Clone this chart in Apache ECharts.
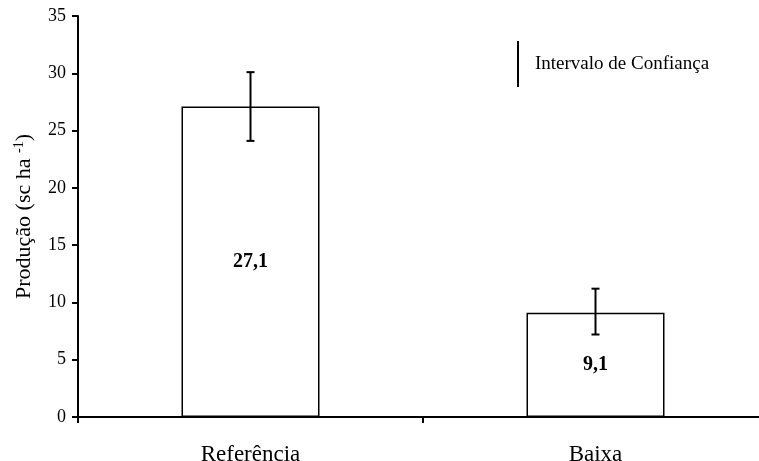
<!DOCTYPE html>
<html>
<head>
<meta charset="UTF-8">
<title>Produção</title>
<script src="https://cdn.jsdelivr.net/npm/echarts@6/dist/echarts.min.js"></script>
<style>
  html, body { margin: 0; padding: 0; background: #fff; }
  #main { width: 759px; height: 461px; }
</style>
</head>
<body>
<div id="main"></div>
<script>
  // dados
  var categorias = ['Referência', 'Baixa'];
  var producao = [27.1, 9.1];
  var icInferior = [24.1, 7.2];
  var icSuperior = [30.1, 11.2];
  var yTicks = [0, 5, 10, 15, 20, 25, 30, 35];

  var fonte = 'Liberation Serif, Times New Roman, serif';
  var chart = echarts.init(document.getElementById('main'));

  var erros = categorias.map(function (c, i) {
    return [i, icInferior[i], icSuperior[i]];
  });

  chart.setOption({
    animation: false,
    backgroundColor: '#fff',
    textStyle: { fontFamily: fonte, color: '#000' },
    grid: { left: 78, width: 690, top: 16, bottom: 44, containLabel: false, outerBoundsMode: 'none' },
    legend: {
      left: 517, top: 41, padding: 0,
      data: ['Intervalo de Confiança'],
      icon: 'rect',
      itemWidth: 2, itemHeight: 46,
      itemStyle: { color: '#000', borderWidth: 0 },
      selectedMode: false,
      textStyle: { fontFamily: fonte, fontSize: 19, color: '#000', padding: [0, 0, 0, 11] }
    },
    xAxis: {
      type: 'category',
      data: categorias,
      axisLine: { lineStyle: { color: '#000', width: 2 } },
      axisTick: { show: true, length: 6, lineStyle: { color: '#000', width: 2 } },
      axisLabel: { fontFamily: fonte, fontSize: 23, color: '#000', margin: 26 }
    },
    yAxis: {
      type: 'value',
      min: 0, max: yTicks[yTicks.length - 1], interval: 5,
      name: 'Produção (sc ha {sup|-1})',
      nameLocation: 'middle',
      nameGap: 42,
      nameTextStyle: {
        fontFamily: fonte, fontSize: 22, color: '#000',
        rich: { sup: { fontFamily: fonte, fontSize: 14, color: '#000', verticalAlign: 'top', padding: [0, 0, 10, 0] } }
      },
      splitLine: { show: false },
      axisLine: { show: true, lineStyle: { color: '#000', width: 2 } },
      axisTick: { show: true, length: 6, lineStyle: { color: '#000', width: 2 } },
      axisLabel: { fontFamily: fonte, fontSize: 18, color: '#000', margin: 12 }
    },
    series: [
      {
        name: 'Produção',
        type: 'bar',
        data: producao,
        barWidth: '40%',
        itemStyle: { color: '#fff', borderColor: '#000', borderWidth: 1.5 },
        label: {
          show: true, position: 'inside',
          fontFamily: fonte, fontSize: 20, fontWeight: 'bold', color: '#000',
          formatter: function (p) { return String(p.value).replace('.', ','); }
        },
        z: 2
      },
      {
        name: 'Intervalo de Confiança',
        type: 'custom',
        data: erros,
        itemStyle: { color: '#000' },
        renderItem: function (params, api) {
          var x = api.value(0);
          var lo = api.coord([x, api.value(1)]);
          var hi = api.coord([x, api.value(2)]);
          var half = 4;
          var st = { stroke: '#000', lineWidth: 2 };
          return {
            type: 'group',
            children: [
              { type: 'line', shape: { x1: hi[0], y1: hi[1], x2: lo[0], y2: lo[1] }, style: st },
              { type: 'line', shape: { x1: hi[0] - half, y1: hi[1], x2: hi[0] + half, y2: hi[1] }, style: st },
              { type: 'line', shape: { x1: lo[0] - half, y1: lo[1], x2: lo[0] + half, y2: lo[1] }, style: st }
            ]
          };
        },
        z: 3
      }
    ]
  });
</script>
</body>
</html>
